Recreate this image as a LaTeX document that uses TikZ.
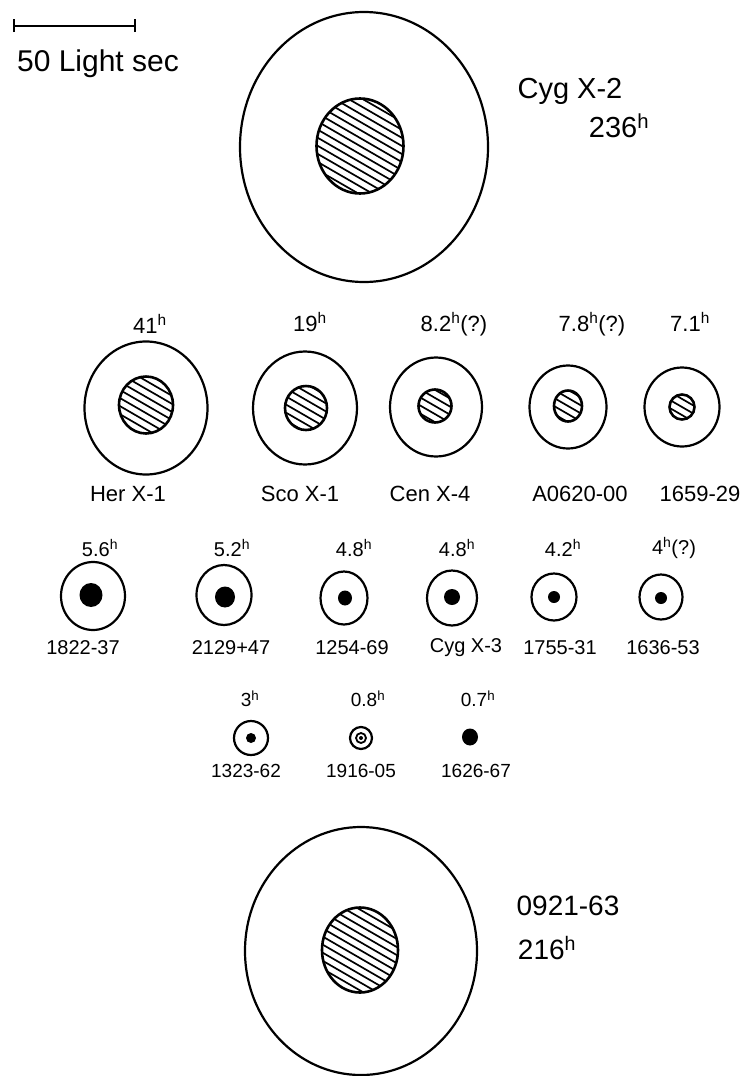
\documentclass[tikz,border=0pt]{standalone}
\usepackage{fontspec}
\setmainfont{Liberation Sans}
\usetikzlibrary{shapes.geometric,calc}
\newcommand{\hr}{\textsuperscript{h}}
\begin{document}
\begin{tikzpicture}[x=1pt,y=-1pt,
  hatched/.style={path picture={
    \begin{scope}[shift={(path picture bounding box.center)}]
      \foreach \s in {-70,-63,...,70}{
        \draw[line width=1.7pt] ({-0.5*\s-0.866*90},{0.866*\s-0.5*90}) -- ({-0.5*\s+0.866*90},{0.866*\s+0.5*90});
      }
    \end{scope}}},
  shell/.style args={#1/#2}{draw, ellipse, line width=2.2pt, inner sep=0pt, minimum width=#1pt, minimum height=#2pt},
  core/.style args={#1/#2}{draw, ellipse, line width=2.6pt, inner sep=0pt, minimum width=#1pt, minimum height=#2pt, hatched},
  blob/.style args={#1/#2}{fill=black, ellipse, inner sep=0pt, minimum width=#1pt, minimum height=#2pt},
  bigtxt/.style={font=\fontsize{29}{31}\selectfont, inner sep=0pt},
  labA/.style={font=\fontsize{22}{24}\selectfont, inner sep=0pt},
  labB/.style={font=\fontsize{20}{22}\selectfont, inner sep=0pt},
  labC/.style={font=\fontsize{19}{21}\selectfont, inner sep=0pt}
]
\useasboundingbox (0,0) rectangle (744,1076);

% scale bar
\coordinate (sbl) at (14,26);
\coordinate (sbr) at (135,26);
\draw[line width=2.2pt] (sbl) -- (sbr);
\draw[line width=2.2pt] ([yshift=-6pt]sbl) -- ([yshift=7pt]sbl);
\draw[line width=2.2pt] ([yshift=-6pt]sbr) -- ([yshift=7pt]sbr);
\node[bigtxt, font=\fontsize{30}{32}\selectfont] (sbt) at (98,64) {50 Light sec};

% Cyg X-2
\node[shell=248/270] (cyg2o) at (364,147) {};
\node[core=87/95] (cyg2i) at (360,146) {};
\node[bigtxt] (cyg2n) at (570,91) {Cyg X-2};
\node[bigtxt] (cyg2p) at (619,126) {236\hr};

% Row 2
\node[shell=123/133] (hero) at (146,408) {};
\node[core=54/57] (heri) at (146,405) {};
\node[shell=104/113] (scoo) at (305,408) {};
\node[core=42/44] (scoi) at (306,408) {};
\node[shell=92/99] (ceno) at (436,407) {};
\node[core=33/33] (ceni) at (435,406) {};
\node[shell=77/83] (aoo) at (568,407) {};
\node[core=28/31] (aoi) at (568,406) {};
\node[shell=75/79] (s1659o) at (682,407) {};
\node[core=25/25] (s1659i) at (682,407) {};

\node[labA] (herp) at (150,324) {41\hr};
\node[labA] (scop) at (310,322) {19\hr};
\node[labA] (cenp) at (454,324) {8.2\hr(?)};
\node[labA] (aop) at (592,324) {7.8\hr(?)};
\node[labA] (s1659p) at (690,322) {7.1\hr};

\node[labA] (hern) at (128,494) {Her X-1};
\node[labA] (scon) at (300,494) {Sco X-1};
\node[labA] (cenn) at (430,494) {Cen X-4};
\node[labA] (aon) at (580,494) {A0620-00};
\node[labA] (s1659n) at (700,494) {1659-29};

% Row 3
\node[shell=64/68] (s1822o) at (93,596) {};
\node[blob=23/24] (s1822i) at (91,595) {};
\node[shell=55/60] (s2129o) at (224,595) {};
\node[blob=20/21] (s2129i) at (225,597) {};
\node[shell=47/53] (s1254o) at (344,598) {};
\node[blob=14/15] (s1254i) at (345,598) {};
\node[shell=50/55] (cyg3o) at (452,598) {};
\node[blob=16/16] (cyg3i) at (452,597) {};
\node[shell=45/47] (s1755o) at (554,597) {};
\node[blob=12/12] (s1755i) at (554,597) {};
\node[shell=43/45] (s1636o) at (661,597) {};
\node[blob=12/12] (s1636i) at (661,598) {};

\node[labB] (s1822p) at (100,548) {5.6\hr};
\node[labB] (s2129p) at (232,548) {5.2\hr};
\node[labB] (s1254p) at (354,548) {4.8\hr};
\node[labB] (cyg3p) at (457,548) {4.8\hr};
\node[labB] (s1755p) at (563,548) {4.2\hr};
\node[labB] (s1636p) at (674,548) {4\hr(?)};

\node[labB] (s1822n) at (83,648) {1822-37};
\node[labB] (s2129n) at (231,648) {2129+47};
\node[labB] (s1254n) at (352,648) {1254-69};
\node[labB] (cyg3n) at (466,648) {Cyg X-3};
\node[labB] (s1755n) at (560,648) {1755-31};
\node[labB] (s1636n) at (663,648) {1636-53};

% Row 4
\node[shell=34/34] (s1323o) at (251,738) {};
\node[blob=10/10] (s1323i) at (251,738) {};
\node[shell=22/22] (s1916o) at (361,738) {};
\node[draw, circle, line width=1.8pt, inner sep=0pt, minimum size=10pt] (s1916r) at (361,738) {};
\node[blob=4/4] (s1916i) at (361,738) {};
\node[blob=16/17] (s1626) at (470,737) {};

\node[labC] (s1323p) at (250,699) {3\hr};
\node[labC] (s1916p) at (368,699) {0.8\hr};
\node[labC] (s1626p) at (478,699) {0.7\hr};

\node[labC] (s1323n) at (246,771) {1323-62};
\node[labC] (s1916n) at (361,771) {1916-05};
\node[labC] (s1626n) at (476,771) {1626-67};

% 0921-63
\node[shell=232/248] (s0921o) at (361,951) {};
\node[core=76/85] (s0921i) at (360,950) {};
\node[bigtxt, font=\fontsize{28}{30}\selectfont] (s0921n) at (568,906) {0921-63};
\node[bigtxt, font=\fontsize{28}{30}\selectfont] (s0921p) at (547,948) {216\hr};
\end{tikzpicture}
\end{document}
